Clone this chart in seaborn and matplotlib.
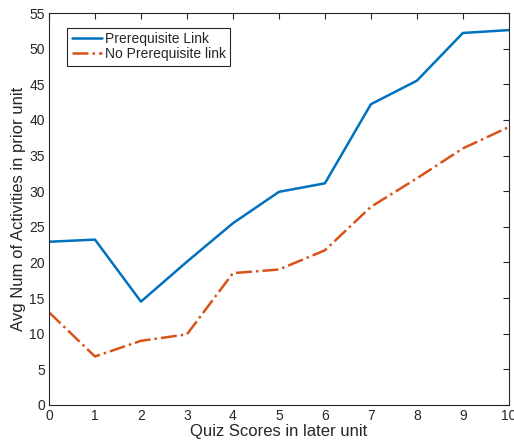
import numpy as np
import pandas as pd
import seaborn as sns
import matplotlib
matplotlib.use("Agg")
import matplotlib.pyplot as plt

quiz_scores = [0, 1, 2, 3, 4, 5, 6, 7, 8, 9, 10]
prereq_link = [22.9, 23.2, 14.5, 20.1, 25.5, 29.9, 31.1, 42.2, 45.5, 52.2, 52.6]
no_prereq_link = [13.0, 6.8, 9.0, 9.9, 18.5, 19.0, 21.7, 27.8, 31.8, 36.0, 39.0]

sns.set_theme(style="white")
plt.rcParams['font.family'] = ['Liberation Sans', 'DejaVu Sans']

fig = plt.figure(figsize=(5.14, 4.44), dpi=100)
ax = fig.add_axes([0.0953, 0.088, 0.8947, 0.8827])

sns.lineplot(x=quiz_scores, y=prereq_link, ax=ax, color="#0072BD", linewidth=1.8,
             label="Prerequisite Link")
sns.lineplot(x=quiz_scores, y=no_prereq_link, ax=ax, color="#D95319", linewidth=1.8,
             linestyle="-.", label="No Prerequisite link")

ax.set_xlim(0, 10)
ax.set_ylim(0, 55)
ax.set_xticks(range(0, 11))
ax.set_yticks(range(0, 56, 5))
ax.tick_params(direction="in", top=True, right=True, length=4, width=0.8,
               colors="#262626", labelsize=10, pad=3)
for s in ax.spines.values():
    s.set_color("#262626")
    s.set_linewidth(0.8)
ax.set_xlabel("Quiz Scores in later unit", fontsize=12, color="#262626", labelpad=1)
ax.set_ylabel("Avg Num of Activities in prior unit", fontsize=12, color="#262626", labelpad=2)

leg = ax.legend(loc="upper left", bbox_to_anchor=(0.025, 0.98), fontsize=10,
                handlelength=2.2, handletextpad=0.2, borderpad=0.3, labelspacing=0.1,
                fancybox=False, framealpha=1, edgecolor="#262626")
leg.get_frame().set_linewidth(0.8)

fig.savefig("out.png", dpi=100)
